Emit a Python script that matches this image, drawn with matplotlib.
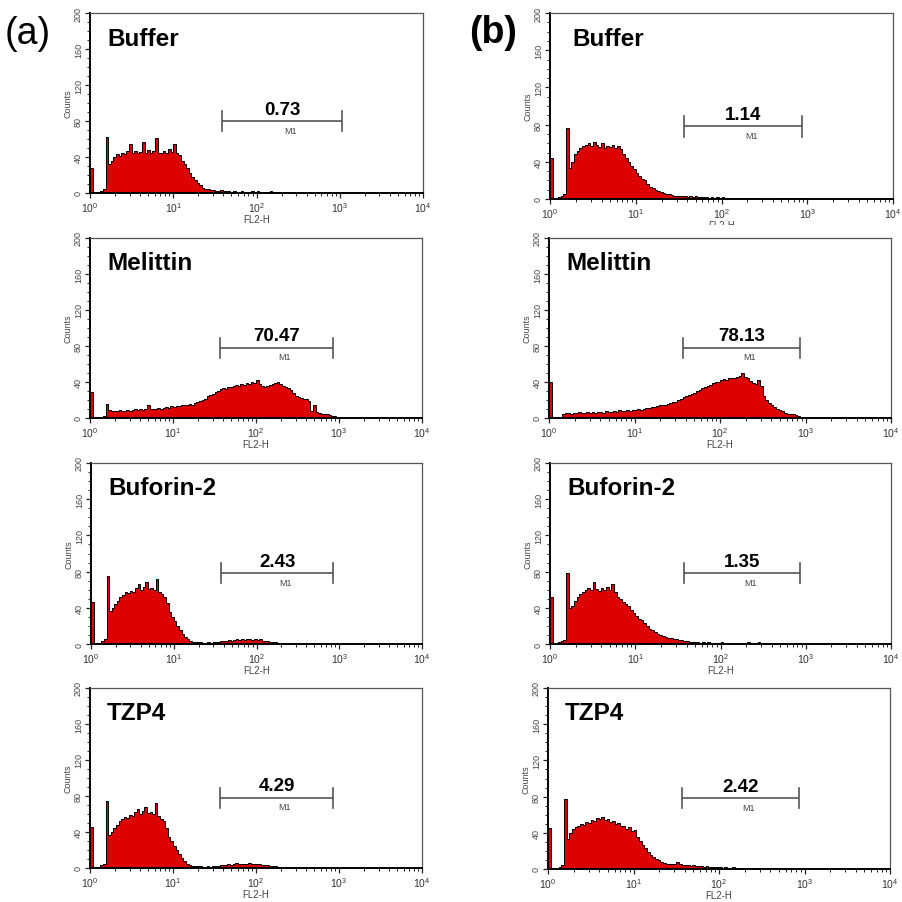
import numpy as np
import matplotlib
matplotlib.use("Agg")
import matplotlib.pyplot as plt
from matplotlib.patches import Rectangle
from matplotlib.ticker import FixedLocator, LogLocator, NullFormatter

plt.rcParams['font.family'] = ['Liberation Sans', 'DejaVu Sans']
plt.rcParams['mathtext.fontset'] = 'custom'
plt.rcParams['mathtext.rm'] = 'Liberation Sans'
plt.rcParams['mathtext.it'] = 'Liberation Sans:italic'
plt.rcParams['mathtext.bf'] = 'Liberation Sans:bold'

W, H = 902, 903
BINS_PER_DECADE = 32

# ---- sample names and M1 gate percentages ----
names = ["Buffer", "Melittin", "Buforin-2", "TZP4"]
m1_pct_a = ["0.73", "70.47", "2.43", "4.29"]
m1_pct_b = ["1.14", "78.13", "1.35", "2.42"]

# M1 gate limits (FL2-H) and marker height (counts)
gate_lo_a = [39, 37, 37, 37]
gate_hi_a = [1075, 850, 850, 850]
gate_lo_b = [37, 37, 37, 37]
gate_hi_b = [860, 860, 860, 860]
gate_y_a = [80, 78, 78, 78]
gate_y_b = [78, 78, 78, 78]

# ---- histogram counts, channel width 1/32 decade starting at 10^0 ----
counts_a_buffer = [28, 0, 0, 1, 2, 4, 62, 32, 36, 40, 43, 41, 45, 43, 47, 55, 45, 47, 44, 46,
                   57, 45, 48, 44, 47, 61, 45, 44, 47, 44, 49, 46, 54, 44, 42, 36, 32, 28, 22, 18,
                   14, 11, 9, 6, 5, 4, 3, 3, 2, 2, 3, 2, 2, 2, 1, 2, 1, 1, 2, 1,
                   1, 1, 2, 1, 2, 1, 1, 1, 1, 2, 1, 1, 1, 1, 1, 0, 1, 0]
counts_a_melittin = [29, 0, 0, 0, 1, 2, 16, 9, 8, 8, 8, 9, 8, 8, 9, 8, 9, 10, 9, 10,
                     9, 10, 14, 10, 10, 10, 11, 10, 11, 12, 11, 13, 12, 13, 13, 14, 15, 15, 16, 15,
                     17, 18, 19, 20, 21, 24, 26, 27, 29, 30, 32, 33, 32, 35, 34, 36, 37, 36, 38, 37,
                     39, 38, 40, 39, 42, 38, 36, 34, 36, 37, 38, 39, 40, 38, 36, 34, 33, 31, 28, 25,
                     23, 22, 21, 21, 19, 8, 14, 7, 6, 5, 5, 4, 3, 2, 2, 1, 1, 0]
counts_a_buforin = [46, 0, 0, 1, 3, 5, 75, 37, 40, 44, 48, 52, 54, 57, 56, 59, 58, 62, 66, 60,
                    63, 68, 61, 62, 60, 72, 58, 55, 52, 45, 35, 30, 25, 20, 16, 11, 8, 5, 3, 2,
                    2, 2, 2, 1, 1, 2, 1, 2, 2, 2, 3, 3, 3, 4, 3, 4, 6, 4, 5, 4,
                    5, 6, 4, 5, 4, 5, 3, 3, 3, 2, 2, 2, 1, 1, 1, 0, 1, 0, 0, 1,
                    0, 0, 0, 0, 0, 1, 0, 0, 0, 0, 1, 0, 0, 0, 0, 1, 0]
counts_a_tzp4 = [46, 0, 0, 1, 3, 5, 75, 37, 40, 44, 48, 52, 54, 57, 56, 59, 58, 62, 66, 60,
                 63, 68, 61, 62, 60, 72, 58, 55, 52, 45, 35, 30, 25, 20, 16, 11, 8, 5, 3, 2,
                 2, 2, 2, 1, 1, 2, 1, 2, 2, 2, 3, 3, 3, 4, 3, 4, 6, 4, 5, 4,
                 5, 6, 4, 5, 4, 5, 3, 3, 3, 2, 2, 2, 1, 1, 1, 0, 1, 0, 0, 1,
                 0, 0, 0, 0, 0, 1, 0, 0, 0, 0, 1, 0, 0, 0, 0, 1, 0]

counts_b_buffer = [44, 0, 1, 2, 3, 5, 76, 33, 40, 48, 52, 55, 57, 58, 60, 57, 61, 58, 56, 60,
                   55, 57, 56, 58, 55, 57, 54, 48, 44, 40, 36, 32, 28, 25, 22, 20, 16, 13, 12, 10,
                   9, 8, 6, 5, 5, 4, 3, 3, 3, 3, 3, 2, 3, 2, 3, 2, 2, 2, 2, 1,
                   2, 1, 2, 1, 2, 1, 1, 1, 1, 1, 1, 1, 1, 0, 1, 0, 1, 1, 0, 1,
                   0, 1, 0, 0, 1, 0, 1, 0, 1, 0, 0, 1, 0, 0, 1, 0]
counts_b_melittin = [40, 0, 0, 0, 1, 5, 6, 6, 5, 6, 6, 7, 6, 6, 7, 6, 7, 6, 7, 7,
                     6, 8, 7, 7, 8, 7, 9, 8, 8, 9, 8, 9, 9, 10, 9, 10, 11, 11, 12, 12,
                     13, 14, 14, 15, 16, 17, 18, 18, 20, 21, 23, 24, 26, 27, 28, 30, 31, 33, 34, 36,
                     37, 39, 40, 40, 42, 43, 42, 44, 45, 44, 46, 47, 50, 46, 44, 41, 39, 38, 42, 36,
                     25, 20, 17, 14, 12, 10, 9, 8, 6, 5, 4, 4, 3, 2, 1, 1, 0]
counts_b_buforin = [52, 0, 1, 2, 3, 4, 78, 40, 42, 47, 52, 55, 58, 60, 62, 60, 68, 61, 59, 62,
                    60, 63, 60, 66, 58, 52, 50, 46, 44, 42, 38, 34, 31, 28, 26, 23, 20, 17, 15, 13,
                    11, 10, 9, 8, 7, 7, 6, 5, 4, 4, 3, 3, 2, 2, 2, 2, 1, 2, 1, 2,
                    1, 1, 1, 1, 2, 1, 1, 1, 0, 1, 1, 0, 1, 0, 2, 1, 0, 1, 2, 1,
                    0, 1, 1, 0, 1, 0, 1, 1, 0, 0, 1, 0, 0, 1, 0, 1, 0, 1, 0, 0]
counts_b_tzp4 = [45, 0, 0, 1, 2, 4, 77, 33, 40, 44, 46, 48, 50, 49, 52, 51, 54, 53, 56, 55,
                 57, 54, 55, 52, 53, 50, 51, 48, 47, 44, 46, 42, 43, 35, 31, 27, 23, 19, 16, 13,
                 11, 10, 8, 7, 6, 5, 5, 5, 8, 5, 4, 4, 4, 3, 4, 3, 3, 3, 2, 3,
                 2, 2, 2, 2, 2, 1, 2, 1, 1, 2, 1, 1, 1, 1, 1, 0, 1, 1, 0, 1,
                 1, 0, 1, 0, 1, 0, 0, 1, 0, 0, 1, 0]

hist_a = [counts_a_buffer, counts_a_melittin, counts_a_buforin, counts_a_tzp4]
hist_b = [counts_b_buffer, counts_b_melittin, counts_b_buforin, counts_b_tzp4]

# panel boxes in pixels: left, top, right, bottom
boxes_a = [(90, 14, 423, 194), (90, 239, 422, 419), (91, 464, 422, 645), (90, 689, 422, 869)]
boxes_b = [(550, 14, 893, 200), (549, 239, 891, 419), (550, 464, 891, 645), (548, 689, 890, 870)]

RED = '#dc0000'
GREY = '#444444'

fig = plt.figure(figsize=(W / 100, H / 100), dpi=100)
fig.patch.set_facecolor('white')


def fx(px):
    return px / W


def fy(py):
    return 1 - py / H


def draw_panel(box, counts, name, pct, lo, hi, gy, name_off=(17, 25)):
    l, t, r, b = box
    ax = fig.add_axes([fx(l), fy(b), (r - l) / W, (b - t) / H])
    counts = np.asarray(counts, dtype=float)
    edges = 10 ** (np.arange(len(counts) + 1) / BINS_PER_DECADE)
    ax.stairs(counts, edges, fill=True, color=RED, lw=0)
    ax.stairs(counts, edges, color='black', lw=0.7)

    ax.set_xscale('log')
    ax.set_xlim(1, 1e4)
    ax.set_ylim(0, 200)

    ax.xaxis.set_major_locator(FixedLocator([1, 10, 100, 1000, 10000]))
    ax.xaxis.set_minor_locator(LogLocator(base=10, subs=np.arange(2, 10), numticks=20))
    ax.xaxis.set_minor_formatter(NullFormatter())
    ax.set_xticklabels([r'$10^{0}$', r'$10^{1}$', r'$10^{2}$', r'$10^{3}$', r'$10^{4}$'])
    ax.set_yticks([0, 40, 80, 120, 160, 200])
    ax.set_yticks(np.arange(0, 201, 10), minor=True)
    ax.set_yticklabels(['0', '40', '80', '120', '160', '200'], rotation=90, va='center')

    ax.tick_params(axis='both', which='major', direction='out', length=3.5, width=0.9,
                   color='#222222', labelsize=7.5, labelcolor='#333333', pad=1.5)
    ax.tick_params(axis='both', which='minor', direction='out', length=2, width=0.7,
                   color='#222222')
    ax.tick_params(axis='y', which='major', labelsize=6.5, labelcolor=GREY, pad=1.5)

    for side in ('left', 'bottom'):
        ax.spines[side].set_linewidth(1.4)
        ax.spines[side].set_color('black')
    for side in ('top', 'right'):
        ax.spines[side].set_linewidth(0.9)
        ax.spines[side].set_color('#555555')

    ax.set_xlabel('FL2-H', fontsize=7, color=GREY, labelpad=0.5)
    ax.set_ylabel('Counts', fontsize=6.5, color=GREY, labelpad=1)

    # sample name
    ax.annotate(name, xy=(0, 1), xycoords='axes fraction',
                xytext=(name_off[0] * 0.72, -name_off[1] * 0.72), textcoords='offset points',
                fontsize=17.5, fontweight='bold', ha='left', va='center')

    # M1 marker
    cap = 11
    ax.plot([lo, hi], [gy, gy], color='#555555', lw=1.2, solid_capstyle='butt')
    ax.plot([lo, lo], [gy - cap, gy + cap], color='#555555', lw=1.2)
    ax.plot([hi, hi], [gy - cap, gy + cap], color='#555555', lw=1.2)
    mid = np.sqrt(lo * hi)
    ax.annotate(pct, xy=(mid, gy), xytext=(0, 2.5), textcoords='offset points',
                fontsize=13.5, fontweight='bold', ha='center', va='bottom')
    ax.annotate('M1', xy=(mid, gy), xytext=(6, -6.5), textcoords='offset points',
                fontsize=6.5, color=GREY, ha='center', va='center')
    return ax


for i in range(4):
    draw_panel(boxes_a[i], hist_a[i], names[i], m1_pct_a[i], gate_lo_a[i], gate_hi_a[i], gate_y_a[i])
    off = (22, 26) if i == 0 else (17, 25)
    draw_panel(boxes_b[i], hist_b[i], names[i], m1_pct_b[i], gate_lo_b[i], gate_hi_b[i], gate_y_b[i],
               name_off=off)

# the FL2-H caption of the top-right panel is partly hidden
fig.patches.append(Rectangle((fx(600), fy(237)), fx(250), (237 - 226) / H,
                             transform=fig.transFigure, facecolor='white',
                             edgecolor='none', zorder=10))

fig.text(fx(28), fy(34), '(a)', fontsize=27, ha='center', va='center')
fig.text(fx(493), fy(33), '(b)', fontsize=27, fontweight='bold', ha='center', va='center')

fig.savefig('out.png', dpi=100, facecolor='white')
